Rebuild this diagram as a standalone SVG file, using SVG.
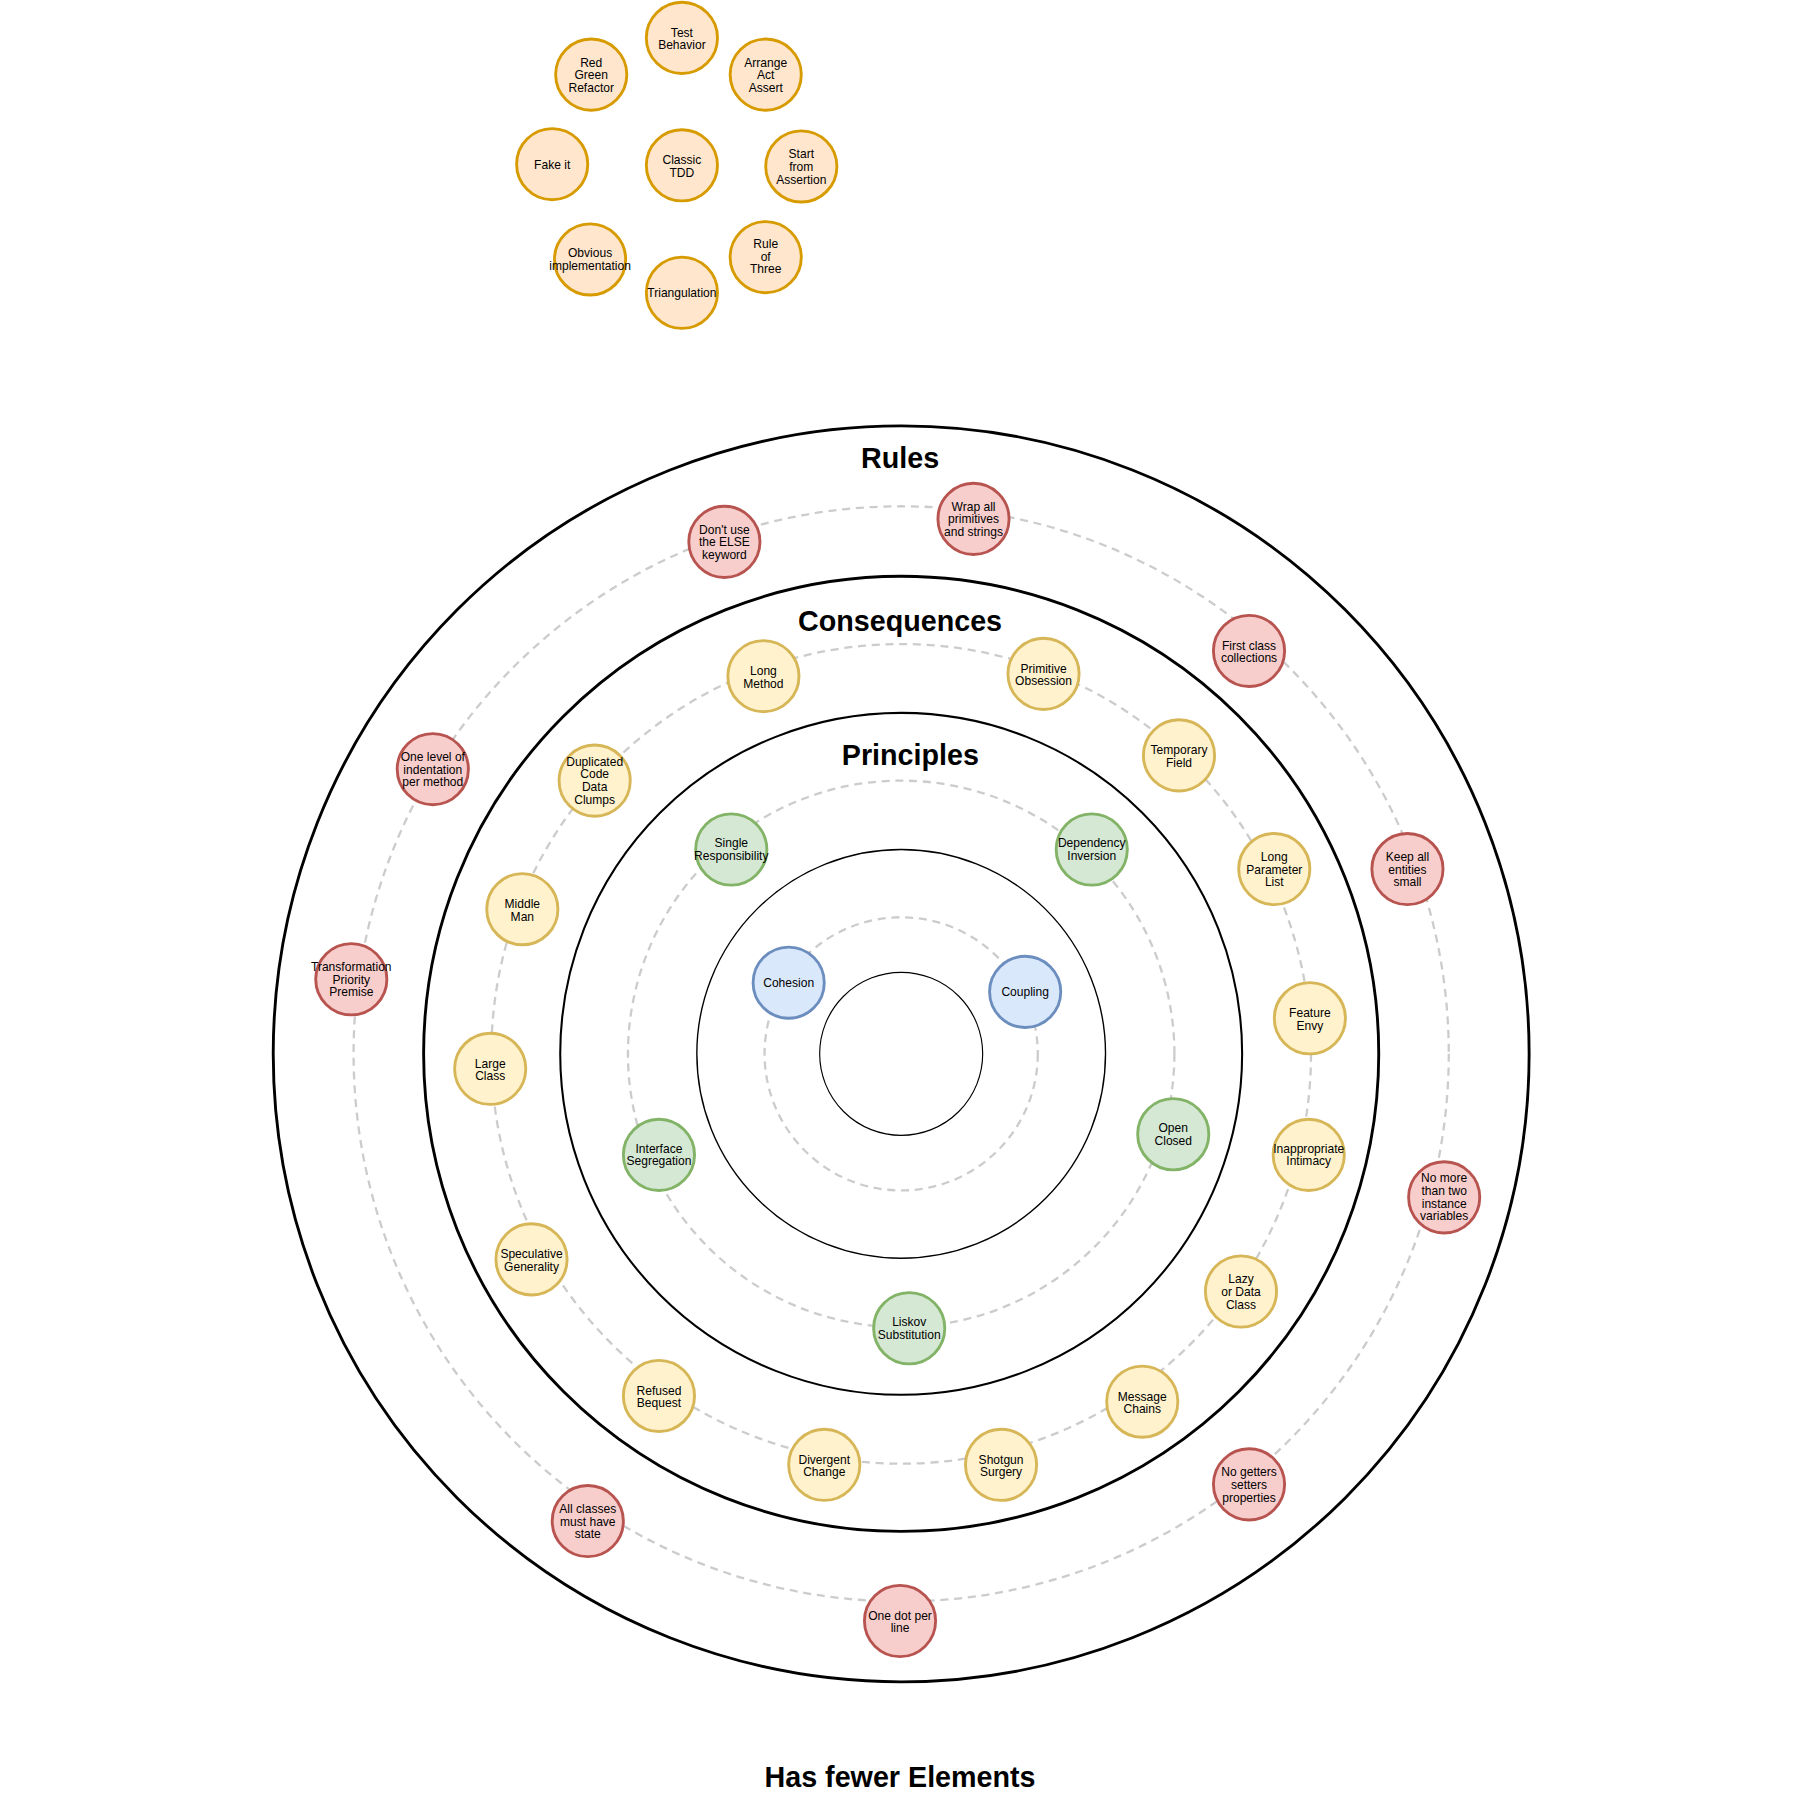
<svg xmlns="http://www.w3.org/2000/svg" width="1800" height="1793" viewBox="0 0 1800 1793">
<style>
.n circle{stroke-width:2.5}
.o circle{fill:#ffe6cc;stroke:#d79b00}
.r circle{fill:#f8cecc;stroke:#b85450}
.y circle{fill:#fff2cc;stroke:#d6b656}
.g circle{fill:#d5e8d4;stroke:#82b366}
.b circle{fill:#dae8fc;stroke:#6c8ebf}
.n text{font-family:"Liberation Sans",Arial,sans-serif;font-size:10.5px;text-anchor:middle;fill:#000}
.ring{fill:none;stroke:#000}
.dash{fill:none;stroke:#cccccc;stroke-width:2;stroke-dasharray:7 5}
.t{font-family:"Liberation Sans",Arial,sans-serif;font-weight:bold;text-anchor:middle;fill:#000}
</style>
<rect width="1800" height="1793" fill="#fff"/>
<g transform="scale(1.148)">
<g id="rings">
<circle class="ring" cx="785" cy="918" r="547" stroke-width="2.5"/>
<circle class="ring" cx="785" cy="918" r="416" stroke-width="2.5"/>
<circle class="ring" cx="785" cy="918" r="297" stroke-width="1.8"/>
<circle class="ring" cx="785" cy="918" r="178" stroke-width="1.2"/>
<circle class="ring" cx="785" cy="918" r="71" stroke-width="1"/>
</g>
<g id="connectors">
<circle class="dash" cx="785" cy="918" r="477"/>
<circle class="dash" cx="785" cy="918" r="357"/>
<circle class="dash" cx="785" cy="918" r="238"/>
<circle class="dash" cx="785" cy="918" r="119"/>
</g>
<text class="t" x="784" y="408" font-size="25">Rules</text>
<text class="t" x="784" y="550" font-size="25">Consequences</text>
<text class="t" x="793" y="666" font-size="25">Principles</text>
<text class="t" x="784" y="1557" font-size="25">Has fewer Elements</text>

<g id="tdd-test-behavior" class="n o"><circle cx="594" cy="33" r="31"/><text x="594" y="32">Test</text><text x="594" y="43">Behavior</text></g>
<g id="tdd-red-green" class="n o"><circle cx="515" cy="65" r="31"/><text x="515" y="58">Red</text><text x="515" y="69">Green</text><text x="515" y="80">Refactor</text></g>
<g id="tdd-aaa" class="n o"><circle cx="667" cy="65" r="31"/><text x="667" y="58">Arrange</text><text x="667" y="69">Act</text><text x="667" y="80">Assert</text></g>
<g id="tdd-fake" class="n o"><circle cx="481" cy="143" r="31"/><text x="481" y="147">Fake it</text></g>
<g id="tdd-classic" class="n o"><circle cx="594" cy="144" r="31"/><text x="594" y="143">Classic</text><text x="594" y="154">TDD</text></g>
<g id="tdd-start" class="n o"><circle cx="698" cy="145" r="31"/><text x="698" y="138">Start</text><text x="698" y="149">from</text><text x="698" y="160">Assertion</text></g>
<g id="tdd-obvious" class="n o"><circle cx="514" cy="226" r="31"/><text x="514" y="224">Obvious</text><text x="514" y="235">implementation</text></g>
<g id="tdd-rule3" class="n o"><circle cx="667" cy="224" r="31"/><text x="667" y="216">Rule</text><text x="667" y="227">of</text><text x="667" y="238">Three</text></g>
<g id="tdd-triang" class="n o"><circle cx="594" cy="255" r="31"/><text x="594" y="259">Triangulation</text></g>

<g id="cohesion" class="n b"><circle cx="687" cy="856" r="31"/><text x="687" y="860">Cohesion</text></g>
<g id="coupling" class="n b"><circle cx="893" cy="864" r="31"/><text x="893" y="868">Coupling</text></g>

<g id="srp" class="n g"><circle cx="637" cy="740" r="31"/><text x="637" y="738">Single</text><text x="637" y="749">Responsibility</text></g>
<g id="dip" class="n g"><circle cx="951" cy="740" r="31"/><text x="951" y="738">Dependency</text><text x="951" y="749">Inversion</text></g>
<g id="ocp" class="n g"><circle cx="1022" cy="988" r="31"/><text x="1022" y="986">Open</text><text x="1022" y="997">Closed</text></g>
<g id="isp" class="n g"><circle cx="574" cy="1006" r="31"/><text x="574" y="1004">Interface</text><text x="574" y="1015">Segregation</text></g>
<g id="lsp" class="n g"><circle cx="792" cy="1157" r="31"/><text x="792" y="1155">Liskov</text><text x="792" y="1166">Substitution</text></g>

<g id="long-method" class="n y"><circle cx="665" cy="589" r="31"/><text x="665" y="588">Long</text><text x="665" y="599">Method</text></g>
<g id="primitive-obsession" class="n y"><circle cx="909" cy="587" r="31"/><text x="909" y="586">Primitive</text><text x="909" y="597">Obsession</text></g>
<g id="temporary-field" class="n y"><circle cx="1027" cy="658" r="31"/><text x="1027" y="657">Temporary</text><text x="1027" y="668">Field</text></g>
<g id="duplicated-code" class="n y"><circle cx="518" cy="680" r="31"/><text x="518" y="667">Duplicated</text><text x="518" y="678">Code</text><text x="518" y="689">Data</text><text x="518" y="700">Clumps</text></g>
<g id="long-param" class="n y"><circle cx="1110" cy="757" r="31"/><text x="1110" y="750">Long</text><text x="1110" y="761">Parameter</text><text x="1110" y="772">List</text></g>
<g id="middle-man" class="n y"><circle cx="455" cy="792" r="31"/><text x="455" y="791">Middle</text><text x="455" y="802">Man</text></g>
<g id="feature-envy" class="n y"><circle cx="1141" cy="887" r="31"/><text x="1141" y="886">Feature</text><text x="1141" y="897">Envy</text></g>
<g id="large-class" class="n y"><circle cx="427" cy="931" r="31"/><text x="427" y="930">Large</text><text x="427" y="941">Class</text></g>
<g id="inappropriate" class="n y"><circle cx="1140" cy="1006" r="31"/><text x="1140" y="1004">Inappropriate</text><text x="1140" y="1015">Intimacy</text></g>
<g id="speculative" class="n y"><circle cx="463" cy="1097" r="31"/><text x="463" y="1096">Speculative</text><text x="463" y="1107">Generality</text></g>
<g id="lazy" class="n y"><circle cx="1081" cy="1125" r="31"/><text x="1081" y="1118">Lazy</text><text x="1081" y="1129">or Data</text><text x="1081" y="1140">Class</text></g>
<g id="refused" class="n y"><circle cx="574" cy="1216" r="31"/><text x="574" y="1215">Refused</text><text x="574" y="1226">Bequest</text></g>
<g id="message-chains" class="n y"><circle cx="995" cy="1221" r="31"/><text x="995" y="1220">Message</text><text x="995" y="1231">Chains</text></g>
<g id="divergent" class="n y"><circle cx="718" cy="1276" r="31"/><text x="718" y="1275">Divergent</text><text x="718" y="1286">Change</text></g>
<g id="shotgun" class="n y"><circle cx="872" cy="1276" r="31"/><text x="872" y="1275">Shotgun</text><text x="872" y="1286">Surgery</text></g>

<g id="wrap-primitives" class="n r"><circle cx="848" cy="452" r="31"/><text x="848" y="445">Wrap all</text><text x="848" y="456">primitives</text><text x="848" y="467">and strings</text></g>
<g id="no-else" class="n r"><circle cx="631" cy="472" r="31"/><text x="631" y="465">Don't use</text><text x="631" y="476">the ELSE</text><text x="631" y="487">keyword</text></g>
<g id="first-class" class="n r"><circle cx="1088" cy="567" r="31"/><text x="1088" y="566">First class</text><text x="1088" y="577">collections</text></g>
<g id="one-level" class="n r"><circle cx="377" cy="670" r="31"/><text x="377" y="663">One level of</text><text x="377" y="674">indentation</text><text x="377" y="685">per method</text></g>
<g id="keep-small" class="n r"><circle cx="1226" cy="757" r="31"/><text x="1226" y="750">Keep all</text><text x="1226" y="761">entities</text><text x="1226" y="772">small</text></g>
<g id="tpp" class="n r"><circle cx="306" cy="853" r="31"/><text x="306" y="846">Transformation</text><text x="306" y="857">Priority</text><text x="306" y="868">Premise</text></g>
<g id="two-vars" class="n r"><circle cx="1258" cy="1043" r="31"/><text x="1258" y="1030">No more</text><text x="1258" y="1041">than two</text><text x="1258" y="1052">instance</text><text x="1258" y="1063">variables</text></g>
<g id="no-getters" class="n r"><circle cx="1088" cy="1293" r="31"/><text x="1088" y="1286">No getters</text><text x="1088" y="1297">setters</text><text x="1088" y="1308">properties</text></g>
<g id="all-state" class="n r"><circle cx="512" cy="1325" r="31"/><text x="512" y="1318">All classes</text><text x="512" y="1329">must have</text><text x="512" y="1340">state</text></g>
<g id="one-dot" class="n r"><circle cx="784" cy="1412" r="31"/><text x="784" y="1411">One dot per</text><text x="784" y="1422">line</text></g>
</g>
</svg>
